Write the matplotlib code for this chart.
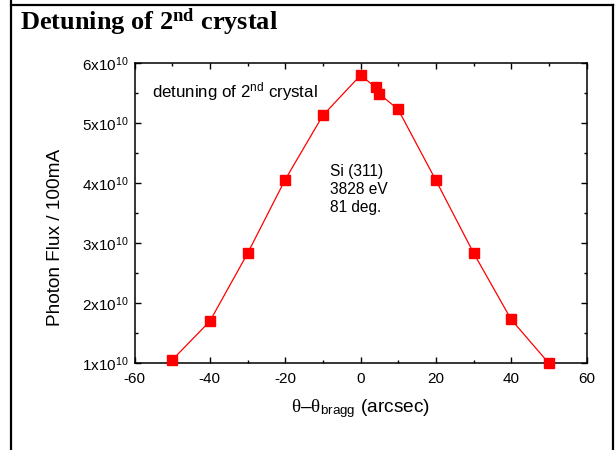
import numpy as np
import matplotlib
matplotlib.use("Agg")
import matplotlib.pyplot as plt
from matplotlib.ticker import MultipleLocator, FuncFormatter
from matplotlib.lines import Line2D

plt.rcParams['font.family'] = ['Liberation Sans', 'DejaVu Sans']
plt.rcParams['axes.unicode_minus'] = False
plt.rcParams['mathtext.fontset'] = 'custom'
plt.rcParams['mathtext.rm'] = 'Liberation Serif'
plt.rcParams['mathtext.it'] = 'Liberation Serif:italic'
plt.rcParams['mathtext.bf'] = 'Liberation Serif:bold'
plt.rcParams['mathtext.sf'] = 'Liberation Sans'

# detuning angle (arcsec) and photon flux per 100 mA
theta = [-50, -40, -30, -20, -10, 0, 4, 5, 10, 20, 30, 40, 50]
flux = [1.055e10, 1.70e10, 2.83e10, 4.06e10, 5.13e10, 5.80e10, 5.60e10,
        5.49e10, 5.23e10, 4.05e10, 2.84e10, 1.73e10, 1.00e10]

fig = plt.figure(figsize=(6.15, 4.5), dpi=100)
ax = fig.add_axes([0.2187, 0.1927, 0.735, 0.6667])

ax.plot(theta, flux, color='#ff0000', lw=0.9, marker='s', ms=7.2,
        mec='#ff0000', mfc='#ff0000', clip_on=False, zorder=3)

ax.set_xlim(-60, 60)
ax.set_ylim(1e10, 6e10)
ax.xaxis.set_major_locator(MultipleLocator(20))
ax.xaxis.set_minor_locator(MultipleLocator(10))
ax.yaxis.set_major_locator(MultipleLocator(1e10))
ax.yaxis.set_minor_locator(MultipleLocator(0.5e10))
ax.yaxis.set_major_formatter(FuncFormatter(lambda v, p: r'$\mathsf{%dx10^{10}}$' % round(v / 1e10)))

ax.tick_params(which='both', direction='in', top=True, right=True, width=1.0,
               labelsize=11, colors='black')
ax.tick_params(which='major', length=4.5, pad=4)
ax.tick_params(axis='x', which='major', pad=6)
ax.tick_params(which='minor', length=2.5)
for s in ax.spines.values():
    s.set_linewidth(1.1)

ax.set_xlabel(r'$\mathrm{\theta}$' + '–' + r'$\mathrm{\theta}_{\mathsf{bragg}}$' + ' (arcsec)',
              fontsize=13.8, labelpad=8)
ax.set_ylabel('Photon Flux / 100mA', fontsize=13.7, va='center')
ax.yaxis.set_label_coords(-0.174, 0.419)

ax.text(151.7 / 615, 1 - 97.3 / 450, r'detuning of $\mathsf{2^{nd}}$ crystal',
        transform=fig.transFigure, fontsize=12.2, va='baseline', ha='left')
ax.text(330 / 615, 1 - 164 / 450, 'Si (311)\n3828 eV\n81 deg.',
        transform=fig.transFigure, fontsize=11.2, va='top', ha='left',
        linespacing=1.25)

fig.text(20 / 615, 1 - 30 / 450, r'Detuning of $\mathbf{2^{nd}}$ crystal',
         family='Liberation Serif', weight='bold', fontsize=19, va='baseline')

# slide frame
fw = 1.6
fig.add_artist(Line2D([11 / 615, 11 / 615], [0, 1], color='black', lw=fw))
fig.add_artist(Line2D([11 / 615, 613 / 615], [1 - 5 / 450, 1 - 5 / 450], color='black', lw=fw))
fig.add_artist(Line2D([613 / 615, 613 / 615], [0, 1 - 5 / 450], color='black', lw=fw))

fig.savefig('out.png', dpi=100)
